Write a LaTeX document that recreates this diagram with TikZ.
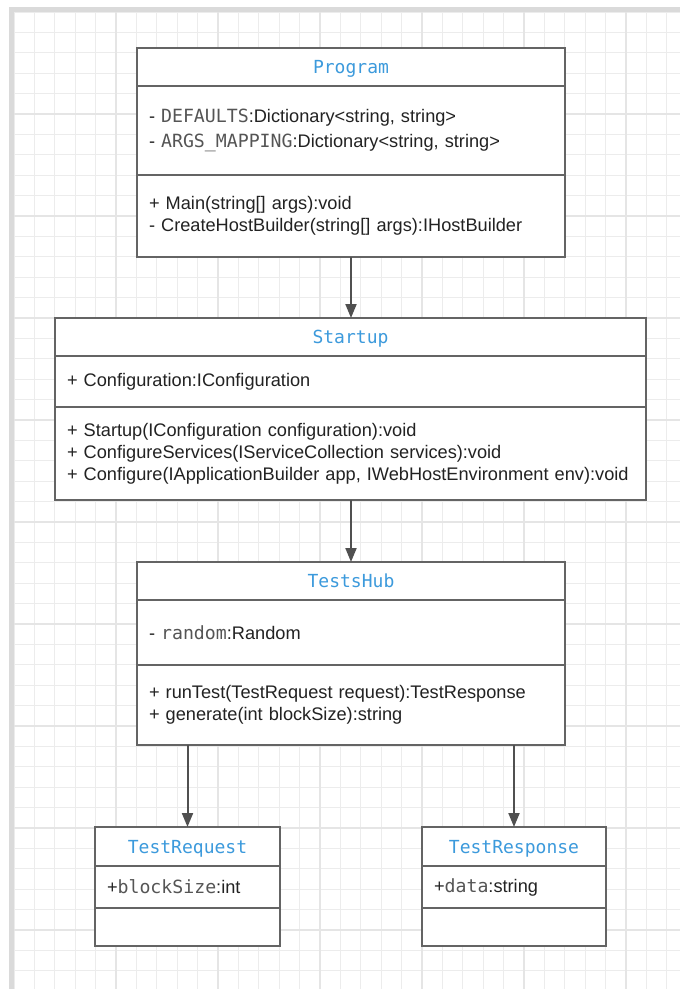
\documentclass[tikz,border=0pt]{standalone}
\usepackage{fontspec}
\setmainfont{Liberation Sans}
\newfontfamily\monofont{DejaVu Sans Mono}
\usetikzlibrary{positioning, arrows.meta}
\definecolor{titleblue}{RGB}{60,154,220}
\definecolor{fieldgray}{RGB}{85,85,85}
\definecolor{textdark}{RGB}{34,34,34}
\definecolor{boxgray}{RGB}{100,100,100}
\definecolor{arrowgray}{RGB}{80,80,80}
\definecolor{gridfine}{RGB}{236,236,236}
\definecolor{gridmajor}{RGB}{229,229,229}
\definecolor{framegray}{RGB}{218,218,218}
\tikzstyle{classname} = [rectangle, draw=boxgray, line width=2pt, fill=white, outer sep=0pt, inner sep=0pt, minimum height=38pt, text depth=0pt, text=titleblue, font=\monofont\fontsize{18}{22}\selectfont]
\tikzstyle{classbody} = [rectangle, draw=boxgray, line width=2pt, fill=white, outer sep=0pt, inner xsep=12pt, inner ysep=0pt, align=left, text=textdark, font=\fontsize{18.2}{22}\selectfont]
\tikzstyle{line} = [draw=arrowgray, line width=2pt, -{Triangle[length=14pt,width=11pt]}]
\newcommand{\field}[1]{{\monofont\color{fieldgray}#1}}

\begin{document}
\begin{tikzpicture}[x=1pt, y=-1pt]
\useasboundingbox (0,0) rectangle (680,989);

% Background grid
\foreach \x in {14,34.4,...,680} \draw [gridfine, line width=1.2pt] (\x,12) -- (\x,989);
\foreach \y in {12,32.4,...,989} \draw [gridfine, line width=1.2pt] (14,\y) -- (680,\y);
\foreach \x in {116,218,...,680} \draw [gridmajor, line width=1.4pt] (\x,12) -- (\x,989);
\foreach \y in {114,216,...,989} \draw [gridmajor, line width=1.4pt] (14,\y) -- (680,\y);
\fill [framegray] (9,7) rectangle (680,12);
\fill [framegray] (9,7) rectangle (14,989);

% Classes
% Program
\node (program) [classname, minimum width=428pt] at (351,67) {Program};
\node (programattr) [classbody, below=0pt of program, text width=404pt, minimum height=89pt] {
    - \field{DEFAULTS}:Dictionary<string, string>\\[3pt]
    - \field{ARGS\_MAPPING}:Dictionary<string, string>
};
\node (programops) [classbody, below=0pt of programattr, text width=404pt, minimum height=82pt] {
    + Main(string[] args):void\\
    - CreateHostBuilder(string[] args):IHostBuilder
};
% Startup
\node (startup) [classname, minimum width=591pt] at (350.5,337) {Startup};
\node (startupattr) [classbody, below=0pt of startup, text width=567pt, minimum height=51pt] {
    + Configuration:IConfiguration
};
\node (startupops) [classbody, below=0pt of startupattr, text width=567pt, minimum height=93pt] {
    + Startup(IConfiguration configuration):void\\
    + ConfigureServices(IServiceCollection services):void\\
    + Configure(IApplicationBuilder app, IWebHostEnvironment env):void
};
% TestsHub
\node (testshub) [classname, minimum width=428pt] at (351,581) {TestsHub};
\node (testshubattr) [classbody, below=0pt of testshub, text width=404pt, minimum height=65pt] {
    - \field{random}:Random
};
\node (testshubops) [classbody, below=0pt of testshubattr, text width=404pt, minimum height=80pt] {
    + runTest(TestRequest request):TestResponse\\
    + generate(int blockSize):string
};
% TestRequest
\node (testrequest) [classname, minimum width=185pt, minimum height=39pt] at (187.5,846.5) {TestRequest};
\node (testrequestattr) [classbody, below=0pt of testrequest, text width=161pt, minimum height=42pt] {
    +\field{blockSize}:int
};
\node (testrequestops) [classbody, below=0pt of testrequestattr, text width=161pt, minimum height=38pt] {};
% TestResponse
\node (testresponse) [classname, minimum width=184pt, minimum height=39pt] at (514,846.5) {TestResponse};
\node (testresponseattr) [classbody, below=0pt of testresponse, text width=160pt, minimum height=42pt] {
    +\field{data}:string
};
\node (testresponseops) [classbody, below=0pt of testresponseattr, text width=160pt, minimum height=38pt] {};

% Connections
\draw [line] (programops.south) -- (programops.south |- startup.north);
\draw [line] (startupops.south -| testshub.north) -- (testshub.north);
\draw [line] (testshubops.south -| testrequest.north) -- (testrequest.north);
\draw [line] (testshubops.south -| testresponse.north) -- (testresponse.north);

\end{tikzpicture}
\end{document}
